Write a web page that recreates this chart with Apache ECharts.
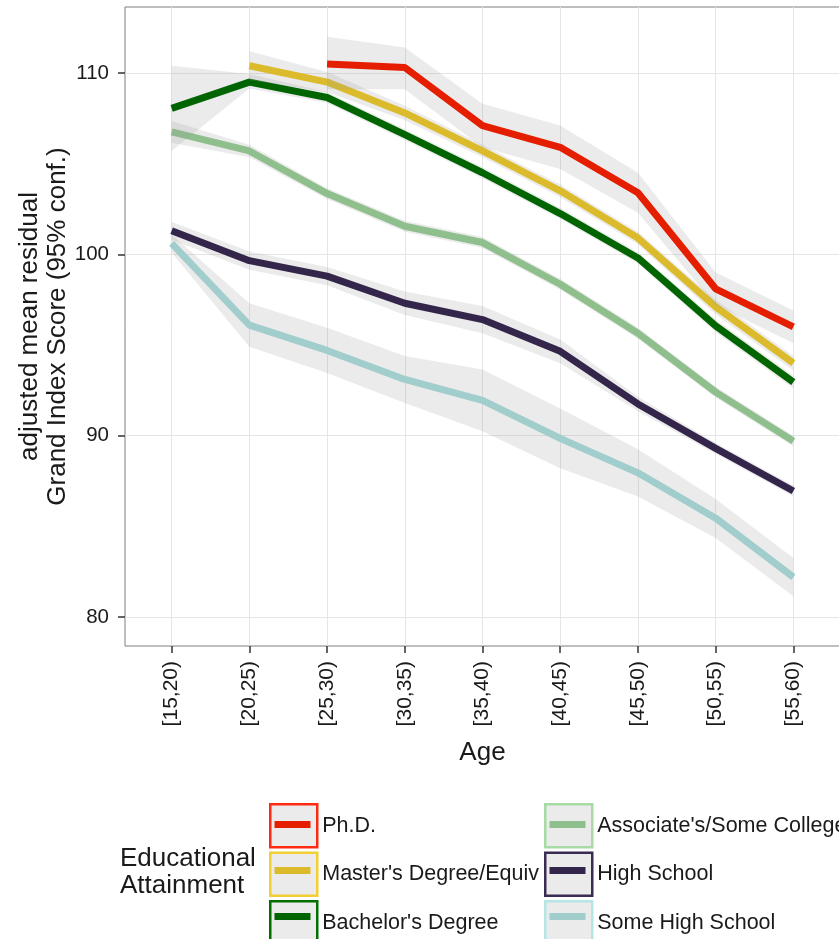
<!DOCTYPE html>
<html><head><meta charset="utf-8">
<script src="https://cdn.jsdelivr.net/npm/echarts@6/dist/echarts.min.js"></script>
<style>html,body{margin:0;padding:0;background:#fff}#c{width:839px;height:939px}</style>
</head><body><div id="c"></div>
<script>
const categories = ['[15,20)','[20,25)','[25,30)','[30,35)','[35,40)','[40,45)','[45,50)','[50,55)','[55,60)'];
const yTicks = [80, 90, 100, 110];

const phd     = [null, null, 110.5, 110.3, 107.1, 105.9, 103.4, 98.1, 96.0];
const phdLo   = [null, null, 109.1, 109.1, 105.9, 104.7, 102.3, 97.2, 95.1];
const phdHi   = [null, null, 112.0, 111.4, 108.3, 107.1, 104.5, 99.0, 96.9];

const masters   = [null, 110.4, 109.5, 107.8, 105.7, 103.5, 100.9, 97.1, 94.0];
const mastersLo = [null, 109.6, 108.95, 107.4, 105.35, 103.15, 100.55, 96.7, 93.6];
const mastersHi = [null, 111.2, 110.05, 108.2, 106.05, 103.85, 101.25, 97.5, 94.4];

const bachelors   = [108.05, 109.5, 108.65, 106.6, 104.5, 102.25, 99.8, 96.05, 92.95];
const bachelorsLo = [105.7, 109.15, 108.35, 106.3, 104.2, 101.95, 99.5, 95.7, 92.6];
const bachelorsHi = [110.4, 109.95, 108.95, 106.9, 104.8, 102.55, 100.1, 96.4, 93.3];

const associates   = [106.75, 105.7, 103.35, 101.55, 100.65, 98.35, 95.65, 92.4, 89.7];
const associatesLo = [106.15, 105.35, 103.05, 101.25, 100.35, 98.05, 95.35, 92.1, 89.4];
const associatesHi = [107.35, 106.05, 103.65, 101.85, 100.95, 98.65, 95.95, 92.7, 90.0];

const highSchool   = [101.3, 99.65, 98.8, 97.3, 96.4, 94.65, 91.75, 89.3, 86.95];
const highSchoolLo = [100.8, 99.15, 98.3, 96.65, 95.65, 94.0, 91.35, 89.0, 86.65];
const highSchoolHi = [101.8, 100.15, 99.3, 97.95, 97.15, 95.3, 92.15, 89.6, 87.25];

const someHS   = [100.6, 96.1, 94.7, 93.1, 91.95, 89.85, 87.95, 85.45, 82.2];
const someHSLo = [100.1, 94.9, 93.45, 91.8, 90.25, 88.2, 86.65, 84.35, 81.15];
const someHSHi = [101.1, 97.3, 95.95, 94.4, 93.65, 91.5, 89.25, 86.5, 83.25];

// drawing order bottom -> top
const groups = [
  {name:'Some High School',        mean:someHS,     lo:someHSLo,     hi:someHSHi,     color:'#A1CDCD', border:'#B5E6E6'},
  {name:'High School',             mean:highSchool, lo:highSchoolLo, hi:highSchoolHi, color:'#33264A', border:'#3A2C52'},
  {name:"Associate's/Some College",mean:associates, lo:associatesLo, hi:associatesHi, color:'#8FBF8C', border:'#A6DBA3'},
  {name:"Bachelor's Degree",       mean:bachelors,  lo:bachelorsLo,  hi:bachelorsHi,  color:'#006400', border:'#006E00'},
  {name:"Master's Degree/Equiv",   mean:masters,    lo:mastersLo,    hi:mastersHi,    color:'#DBBB2B', border:'#F2D034'},
  {name:'Ph.D.',                   mean:phd,        lo:phdLo,        hi:phdHi,        color:'#E51E00', border:'#FF2A12'}
];
const legendCol1 = ['Ph.D.', "Master's Degree/Equiv", "Bachelor's Degree"];
const legendCol2 = ["Associate's/Some College", 'High School', 'Some High School'];

const FONT = 'Liberation Sans, Arial, sans-serif';
const TXT = '#1a1a1a';
const xIdx = categories.map((c, i) => i);

function bandRender(params, api) {
  if (params.dataIndexInside !== 0) return null;
  const n = params.dataInsideLength;
  const top = [], bot = [];
  for (let j = 0; j < n; j++) {
    const x = api.value(0, j);
    top.push(api.coord([x, api.value(2, j)]));
    bot.push(api.coord([x, api.value(1, j)]));
  }
  return {
    type:'polygon', silent:true,
    shape:{points: top.concat(bot.reverse())},
    style:{fill:'rgba(153,153,153,0.2)'}
  };
}

const series = [];
groups.forEach((g, k) => {
  const bandData = [];
  g.lo.forEach((v, i) => { if (v != null && g.hi[i] != null) bandData.push([i, v, g.hi[i]]); });
  series.push({
    type:'custom', name:'_band' + k, silent:true, clip:true,
    renderItem: bandRender,
    encode:{x:0, y:[1, 2]},
    data: bandData, z: 10 + 2*k
  });
  series.push({
    type:'line', name:g.name, data: g.mean.map((v, i) => [i, v]),
    symbol:'none', lineStyle:{color:g.color, width:7}, itemStyle:{color:g.color},
    emphasis:{disabled:true}, z: 11 + 2*k
  });
});

const byName = {};
groups.forEach(g => byName[g.name] = g);

function boxLegend(names, left) {
  return {
    orient:'vertical', left:left, top:803, height:200, padding:0, itemGap:3,
    itemWidth:47, itemHeight:43, icon:'rect', selectedMode:false,
    textStyle:{fontSize:21.5, color:TXT, fontFamily:FONT, lineHeight:43},
    data: names.map(n => ({name:n, itemStyle:{color:'#EBEBEB', borderColor:byName[n].border, borderWidth:2.5}}))
  };
}
function lineLegend(names, left) {
  return {
    orient:'vertical', left:left + 5.5, top:803, height:200, padding:0, itemGap:3,
    itemWidth:36, itemHeight:7, icon:'rect', selectedMode:false,
    textStyle:{fontSize:21.5, color:'rgba(0,0,0,0)', fontFamily:FONT, lineHeight:43},
    data: names.map(n => ({name:n, itemStyle:{color:byName[n].color, borderWidth:0}}))
  };
}

const chart = echarts.init(document.getElementById('c'), null, {renderer:'canvas'});
chart.setOption({
  animation:false,
  backgroundColor:'#fff',
  textStyle:{fontFamily:FONT},
  title:{
    text:'Educational\nAttainment', left:120, top:845, padding:0,
    textStyle:{fontSize:26, fontWeight:'normal', color:TXT, fontFamily:FONT, lineHeight:27}
  },
  legend:[boxLegend(legendCol1, 269), lineLegend(legendCol1, 269), boxLegend(legendCol2, 544), lineLegend(legendCol2, 544)],
  grid:{left:125, top:7, right:-1, bottom:293, show:true, borderColor:'#7f7f7f', borderWidth:1,
        backgroundColor:'#fff', containLabel:false, outerBoundsMode:'none'},
  xAxis:{
    type:'value', min:-0.6, max:8.6,
    name:'Age', nameLocation:'middle', nameGap:94, nameMoveOverlap:false,
    nameTextStyle:{fontSize:26, color:TXT, fontFamily:FONT},
    axisLine:{show:false, onZero:false},
    axisTick:{show:true, customValues:xIdx, length:7, lineStyle:{color:'#333', width:1.5}},
    axisLabel:{customValues:xIdx, rotate:90, margin:15, fontSize:21, color:TXT, fontFamily:FONT,
               formatter:v => categories[Math.round(v)]},
    splitLine:{show:true, lineStyle:{color:'#E5E5E5', width:1}}
  },
  yAxis:{
    type:'value', min:78.4, max:113.64,
    name:'adjusted mean residual\nGrand Index Score (95% conf.)',
    nameLocation:'middle', nameRotate:90, nameGap:53, nameMoveOverlap:false,
    nameTextStyle:{fontSize:26, color:TXT, fontFamily:FONT, lineHeight:28, align:'center'},
    axisLine:{show:false, onZero:false},
    axisTick:{show:true, customValues:yTicks, length:7, lineStyle:{color:'#333', width:1.5}},
    axisLabel:{customValues:yTicks, margin:16, fontSize:20.5, color:TXT, fontFamily:FONT},
    splitLine:{show:true, lineStyle:{color:'#E5E5E5', width:1}}
  },
  series:series
});
</script>
</body></html>
